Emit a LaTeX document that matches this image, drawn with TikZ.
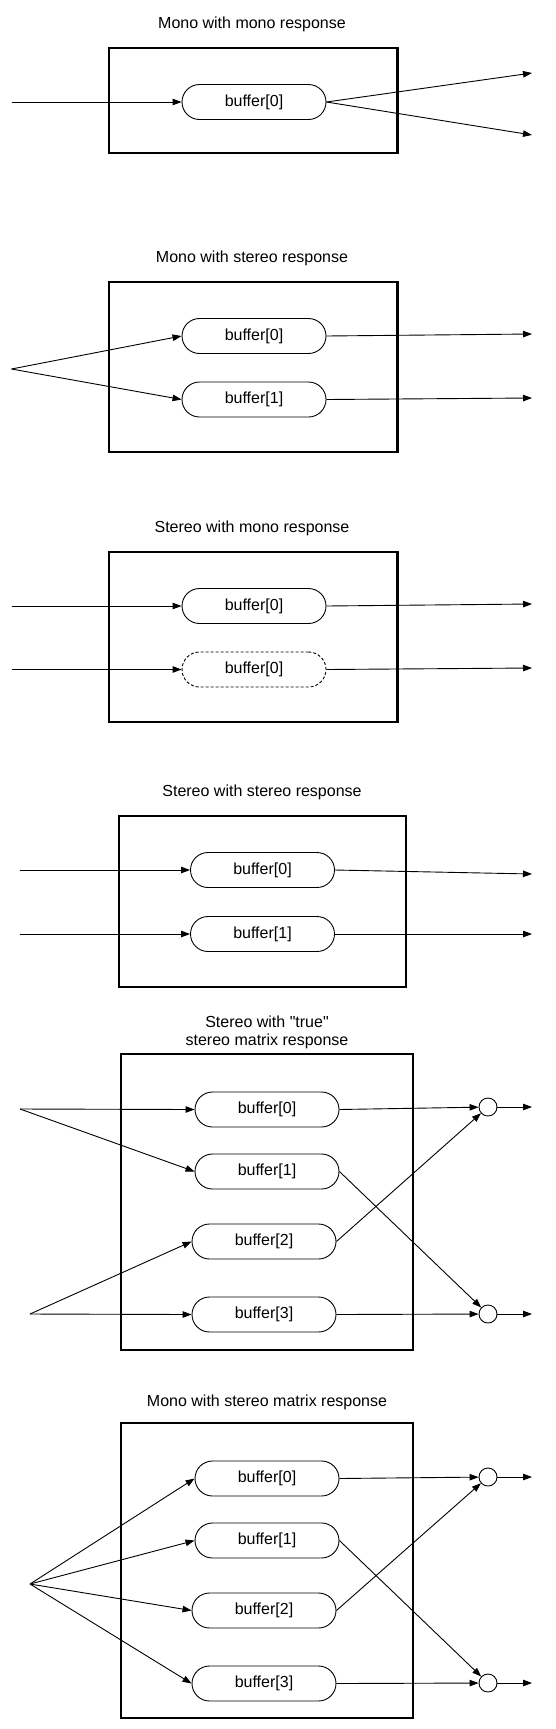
\documentclass[tikz,border=0pt]{standalone}
\usepackage{fontspec}
\setmainfont{Liberation Sans}
\usetikzlibrary{arrows.meta}

\begin{document}
\begin{tikzpicture}[x=1pt,y=-1pt,
    buf/.style={draw,line width=0.9pt,rounded corners=17.5pt,minimum width=144pt,minimum height=35pt,inner sep=0pt,font=\fontsize{16}{18}\selectfont},
    ttl/.style={font=\fontsize{16}{18}\selectfont,align=center},
    outerbox/.style={draw,line width=2.2pt},
    mix/.style={draw,line width=0.9pt,circle,minimum size=18pt,inner sep=0pt},
    sig/.style={-{Triangle[length=9pt,width=6.5pt]},line width=0.9pt}]
    \useasboundingbox (0,0) rectangle (555,1729);

    \node[ttl] (t1) at (252,24) {Mono with mono response};
    \draw[outerbox] (109,48) rectangle (397.5,153);
    \node[buf] (a0) at (254,102) {buffer[0]};
    \coordinate (ain) at (11.5,102);
    \coordinate (aout0) at (532,73);
    \coordinate (aout1) at (532,135);
    \draw[sig] (ain) -- (a0.west);
    \draw[sig] (a0.east) -- (aout0);
    \draw[sig] (a0.east) -- (aout1);

    \node[ttl] (t2) at (252,258) {Mono with stereo response};
    \draw[outerbox] (109,282) rectangle (397.5,452);
    \node[buf] (b0) at (254,336) {buffer[0]};
    \node[buf] (b1) at (254,399.5) {buffer[1]};
    \coordinate (bin) at (11.5,369);
    \coordinate (bout0) at (532,334);
    \coordinate (bout1) at (532,398);
    \draw[sig] (bin) -- (b0.west);
    \draw[sig] (bin) -- (b1.west);
    \draw[sig] (b0.east) -- (bout0);
    \draw[sig] (b1.east) -- (bout1);

    \node[ttl] (t3) at (252,528) {Stereo with mono response};
    \draw[outerbox] (109,552) rectangle (397.5,722);
    \node[buf] (c0) at (254,606) {buffer[0]};
    \node[buf,dashed,dash pattern=on 3pt off 2pt] (c1) at (254,669.5) {buffer[0]};
    \coordinate (cin0) at (11.5,606);
    \coordinate (cin1) at (11.5,669.5);
    \coordinate (cout0) at (532,604);
    \coordinate (cout1) at (532,668);
    \draw[sig] (cin0) -- (c0.west);
    \draw[sig] (cin1) -- (c1.west);
    \draw[sig] (c0.east) -- (cout0);
    \draw[sig] (c1.east) -- (cout1);

    \node[ttl] (t4) at (262,792) {Stereo with stereo response};
    \draw[outerbox] (119,816) rectangle (406,987);
    \node[buf] (d0) at (262.5,870) {buffer[0]};
    \node[buf] (d1) at (262.5,934) {buffer[1]};
    \coordinate (din0) at (20,870);
    \coordinate (din1) at (20,934);
    \coordinate (dout0) at (532,874);
    \coordinate (dout1) at (532,934);
    \draw[sig] (din0) -- (d0.west);
    \draw[sig] (din1) -- (d1.west);
    \draw[sig] (d0.east) -- (dout0);
    \draw[sig] (d1.east) -- (dout1);

    \node[ttl] (t5) at (267,1032) {Stereo with \textquotedbl true\textquotedbl\\stereo matrix response};
    \draw[outerbox] (121,1054) rectangle (413,1350);
    \node[buf] (e0) at (267,1109.5) {buffer[0]};
    \node[buf] (e1) at (267,1171.5) {buffer[1]};
    \node[buf] (e2) at (264,1241.5) {buffer[2]};
    \node[buf] (e3) at (264,1314.5) {buffer[3]};
    \node[mix] (es0) at (488,1107) {};
    \node[mix] (es1) at (488,1314) {};
    \coordinate (einA) at (20,1109);
    \coordinate (einB) at (30,1314);
    \coordinate (eout0) at (532,1107);
    \coordinate (eout1) at (532,1314);
    \draw[sig] (einA) -- (e0.west);
    \draw[sig] (einA) -- (e1.west);
    \draw[sig] (einB) -- (e2.west);
    \draw[sig] (einB) -- (e3.west);
    \draw[sig] (e0.east) -- (es0);
    \draw[sig] (e1.east) -- (es1);
    \draw[sig] (e2.east) -- (es0);
    \draw[sig] (e3.east) -- (es1);
    \draw[sig] (es0) -- (eout0);
    \draw[sig] (es1) -- (eout1);

    \node[ttl] (t6) at (267,1402) {Mono with stereo matrix response};
    \draw[outerbox] (121,1423) rectangle (413,1718);
    \node[buf] (f0) at (267,1478.5) {buffer[0]};
    \node[buf] (f1) at (267,1540.5) {buffer[1]};
    \node[buf] (f2) at (264,1610.5) {buffer[2]};
    \node[buf] (f3) at (264,1683.5) {buffer[3]};
    \node[mix] (fs0) at (488,1477) {};
    \node[mix] (fs1) at (488,1683) {};
    \coordinate (fin) at (30,1584);
    \coordinate (fout0) at (532,1477);
    \coordinate (fout1) at (532,1683);
    \draw[sig] (fin) -- (f0.west);
    \draw[sig] (fin) -- (f1.west);
    \draw[sig] (fin) -- (f2.west);
    \draw[sig] (fin) -- (f3.west);
    \draw[sig] (f0.east) -- (fs0);
    \draw[sig] (f1.east) -- (fs1);
    \draw[sig] (f2.east) -- (fs0);
    \draw[sig] (f3.east) -- (fs1);
    \draw[sig] (fs0) -- (fout0);
    \draw[sig] (fs1) -- (fout1);
\end{tikzpicture}
\end{document}
